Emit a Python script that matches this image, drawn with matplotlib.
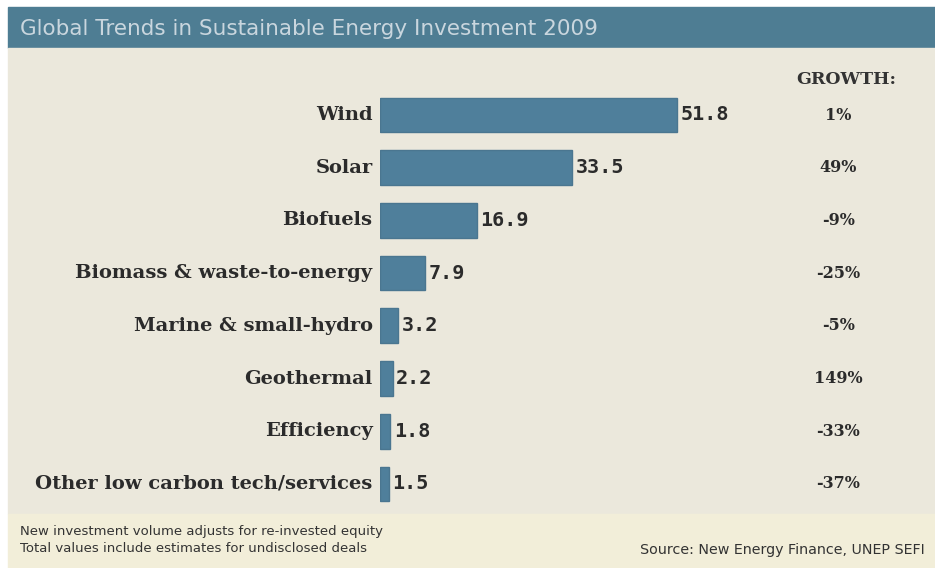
import matplotlib.pyplot as plt
from matplotlib.patches import Rectangle

categories = ['Wind', 'Solar', 'Biofuels', 'Biomass & waste-to-energy',
              'Marine & small-hydro', 'Geothermal', 'Efficiency',
              'Other low carbon tech/services']
values = [51.8, 33.5, 16.9, 7.9, 3.2, 2.2, 1.8, 1.5]
growth = ['1%', '49%', '-9%', '-25%', '-5%', '149%', '-33%', '-37%']

title = 'Global Trends in Sustainable Energy Investment 2009'
notes = ['New investment volume adjusts for re-invested equity',
         'Total values include estimates for undisclosed deals']
source = 'Source: New Energy Finance, UNEP SEFI'

W, H = 935, 568
fig = plt.figure(figsize=(W / 100, H / 100), dpi=100)
fig.patch.set_facecolor('white')

# background panels (pixel coords from top)
bg = fig.add_axes([0, 0, 1, 1])
bg.set_xlim(0, W)
bg.set_ylim(H, 0)
bg.axis('off')
bg.add_patch(Rectangle((8, 7), W - 8, 41, color='#4e7d93'))
bg.add_patch(Rectangle((8, 48), W - 8, 466, color='#ebe8dc'))
bg.add_patch(Rectangle((8, 514), W - 8, 54, color='#f2eed9'))
bg.text(20, 29, title, color='#c9d6de', fontsize=15.5, va='center',
        family='DejaVu Sans Condensed')
bg.text(20, 531, notes[0], fontsize=9.5, va='center', color='#333333',
        family='DejaVu Sans Condensed')
bg.text(20, 549, notes[1], fontsize=9.5, va='center', color='#333333',
        family='DejaVu Sans Condensed')
bg.text(925, 550, source, fontsize=10.3, va='center', ha='right',
        color='#333333', family='DejaVu Sans Condensed')
bg.text(846, 80, 'GROWTH:', fontsize=12.5, va='center', ha='center',
        color='#333333', family='DejaVu Serif', weight='bold')

# bar axes: left edge at 380 px, 5.73 px per unit, rows 52.7 px apart
row = 52.7
ytop = -115 / row
ax = fig.add_axes([380 / W, 0, (W - 380) / W, 1])
ax.set_xlim(0, (W - 380) / 5.73)
ax.set_ylim(ytop + H / row, ytop)
ax.axis('off')

ypos = list(range(len(categories)))
ax.barh(ypos, values, height=0.66, color='#4f7f9b', edgecolor='#4a7690')
for i, (c, v, g) in enumerate(zip(categories, values, growth)):
    ax.text(-1.3, i, c, ha='right', va='center', fontsize=14,
            family='DejaVu Serif', weight='bold', color='#2b2b2b')
    ax.text(v + 0.6, i, f'{v:.1f}', ha='left', va='center', fontsize=14.5,
            family='DejaVu Sans Mono', weight='bold', color='#2b2b2b')
    ax.text(80, i, g, ha='center', va='center', fontsize=11.5,
            family='DejaVu Serif', weight='bold', color='#2b2b2b')

fig.savefig('out.png', dpi=100)
